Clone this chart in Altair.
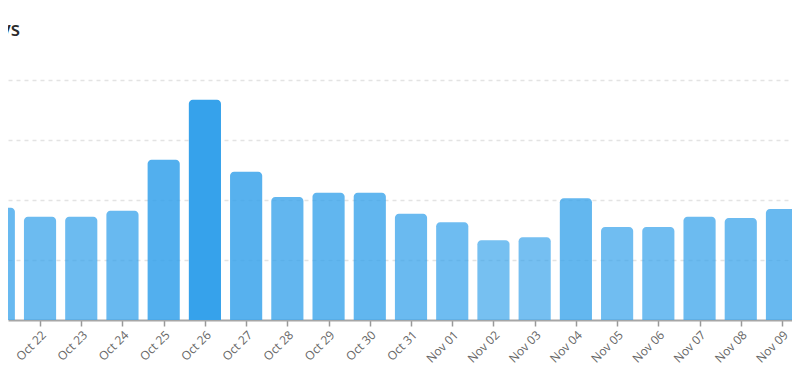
import altair as alt
import pandas as pd

days = ["Oct 21", "Oct 22", "Oct 23", "Oct 24", "Oct 25", "Oct 26", "Oct 27",
        "Oct 28", "Oct 29", "Oct 30", "Oct 31", "Nov 01", "Nov 02", "Nov 03",
        "Nov 04", "Nov 05", "Nov 06", "Nov 07", "Nov 08", "Nov 09", "Nov 10"]
values = [187, 172, 172, 182, 267, 367, 247, 205, 212, 212, 177,
          163, 133, 138, 203, 155, 155, 172, 170, 185]

title_text = "Daily page views over the last 30 days"

df = pd.DataFrame({
    "day": days[:len(values)],
    "i": list(range(len(values))),
    "value": values,
})

label_expr = "[" + ",".join("'%s'" % d for d in days) + "][datum.value]"

x_scale = alt.Scale(domain=[0.223, 0.223 + 784 / 41.22], nice=False, zero=False)

bars = alt.Chart(df).transform_calculate(
    x0="datum.i - 0.39", x1="datum.i + 0.39"
).mark_bar(
    clip=True, color="#36a2eb",
    cornerRadiusTopLeft=4, cornerRadiusTopRight=4,
).encode(
    x=alt.X("x0:Q", scale=x_scale, title=None,
            axis=alt.Axis(values=list(range(len(days))), labelExpr=label_expr,
                          labelAngle=-45, labelFont="Open Sans", labelFontSize=12,
                          labelColor="#666666", tickColor="#999999", tickSize=6,
                          tickWidth=1.5, domainColor="#a6a6a6", domainWidth=2,
                          grid=False, labelPadding=3, labelOverlap=False,
                          labelBound=False, labelFlush=False)),
    x2="x1:Q",
    y=alt.Y("value:Q", scale=alt.Scale(domain=[0, 400], nice=False), title=None,
            axis=alt.Axis(values=[100, 200, 300, 400], labels=False, ticks=False,
                          domain=False, grid=True, gridColor="#e3e3e3",
                          gridDash=[4, 4], gridWidth=1.5)),
    y2=alt.Y2(datum=0),
    opacity=alt.Opacity("value:Q", scale=alt.Scale(domain=[0, max(values)], range=[0.5, 1.0]),
                        legend=None),
)

chart = bars.properties(
    width=784, height=240,
    title=alt.TitleParams(text=title_text, anchor="start", align="right", dx=12,
                          offset=40, fontSize=19, fontWeight=600, color="#2b2b2b",
                          font="Open Sans"),
    autosize=alt.AutoSizeParams(type="none"),
    padding={"left": 0, "top": 72, "right": 0, "bottom": 47},
).configure_view(stroke=None)

chart.save("out.html", embed_options={"renderer": "svg", "actions": False})
